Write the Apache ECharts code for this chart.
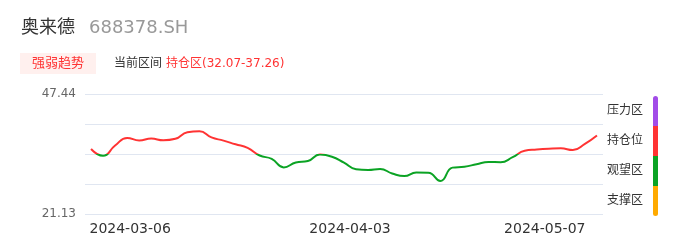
<!DOCTYPE html>
<html><head><meta charset="utf-8">
<script src="https://cdn.jsdelivr.net/npm/echarts@6/dist/echarts.min.js"></script>
<style>html,body{margin:0;padding:0;background:#fff}#c{width:686px;height:247px}</style>
</head><body><div id="c"></div>
<script>
const stockName = '奥来德';
const stockCode = '688378.SH';
const badgeText = '强弱趋势';
const rangeLabel = '当前区间';
const currentZone = '持仓区(32.07-37.26)';
const dates = ['2024-03-01','2024-03-04','2024-03-05','2024-03-06','2024-03-07','2024-03-08','2024-03-11','2024-03-12','2024-03-13','2024-03-14','2024-03-15','2024-03-18','2024-03-19','2024-03-20','2024-03-21','2024-03-22','2024-03-25','2024-03-26','2024-03-27','2024-03-28','2024-03-29','2024-04-01','2024-04-03','2024-04-08','2024-04-09','2024-04-11','2024-04-12','2024-04-15','2024-04-16','2024-04-18','2024-04-19','2024-04-22','2024-04-23','2024-04-25','2024-04-26','2024-04-29','2024-04-30','2024-05-06','2024-05-07','2024-05-08','2024-05-09','2024-05-10','2024-05-13'];
const values = [35.38,33.89,36.15,37.82,37.25,37.66,37.29,37.62,39.05,39.25,37.92,37.22,36.41,35.64,33.96,33.21,31.35,32.42,32.73,34.15,33.69,32.38,30.95,30.78,31.00,30.01,29.44,30.23,30.19,28.37,31.30,31.50,32.03,32.53,32.49,33.58,34.99,35.25,35.43,35.53,35.16,36.50,38.34];
const xLabelDates = ['2024-03-06','2024-04-03','2024-05-07'];
const yMin = 21.13, yMax = 47.44;
const zoneNames = ['压力区','持仓位','观望区','支撑区'];
const zoneColors = ['#a24ce8','#ff3333','#0ba324','#ffaa00'];

const FONT = '"DejaVu Sans","Noto Sans CJK SC",sans-serif';
const step = (yMax - yMin) / 4;
const tickVals = [0,1,2,3,4].map(k => +(yMin + k * step).toFixed(4));
tickVals[4] = yMax;
const labelPad = {'2024-03-06':[0,0,0,6],'2024-04-03':[0,12,0,0],'2024-05-07':[0,8,0,0]};

const chart = echarts.init(document.getElementById('c'), null, {renderer:'canvas'});
const rich = {};
xLabelDates.forEach((d,i)=>{ rich['p'+i] = {padding: labelPad[d], fontSize:14, color:'#333', fontFamily:FONT}; });

chart.setOption({
  animation:false,
  textStyle:{fontFamily:FONT},
  grid:{left:85, right:83, top:94, bottom:33},
  xAxis:{
    type:'category', data:dates, boundaryGap:true,
    axisLine:{show:false}, axisTick:{show:false}, splitLine:{show:false},
    axisLabel:{
      interval:(idx, v)=> xLabelDates.indexOf(v) >= 0,
      formatter:(v)=>{ const k = xLabelDates.indexOf(v); return k>=0 ? '{p'+k+'|'+v+'}' : ''; },
      rich:rich, margin:8, fontSize:14, color:'#333', hideOverlap:false
    }
  },
  yAxis:{
    type:'value', min:yMin, max:yMax, scale:true,
    axisLine:{show:false},
    axisTick:{show:false, customValues:tickVals},
    splitLine:{show:true, lineStyle:{color:'#e0e6f1', width:1}},
    axisLabel:{customValues:[yMin, yMax], formatter:(v)=>v.toFixed(2), color:'#666', fontSize:12, margin:9, fontFamily:FONT}
  },
  visualMap:{
    show:false, type:'piecewise', dimension:1, seriesIndex:0,
    pieces:[
      {gt:tickVals[3], color:zoneColors[0]},
      {gt:tickVals[2], lte:tickVals[3], color:zoneColors[1]},
      {gt:tickVals[1], lte:tickVals[2], color:zoneColors[2]},
      {lte:tickVals[1], color:zoneColors[3]}
    ]
  },
  series:[{
    type:'line', data:values, smooth:true, showSymbol:false, symbol:'none',
    lineStyle:{width:2}
  }]
});

// side zone legend aligned to the y scale
const py = tickVals.map(v => chart.convertToPixel({yAxisIndex:0}, v) + 2);
const graphics = [
  {type:'text', left:21, top:19, style:{text:stockName, font:'18px '+FONT, fill:'#333'}},
  {type:'text', left:89, top:19, style:{text:stockCode, font:'18px '+FONT, fill:'#999'}},
  {type:'rect', shape:{x:20, y:53, width:76, height:21}, style:{fill:'#fff0ee'}},
  {type:'text', x:58, y:63.5, style:{text:badgeText, font:'13px '+FONT, fill:'#ff3333', align:'center', verticalAlign:'middle'}},
  {type:'text', x:114, y:63.5, style:{text:rangeLabel, font:'12px '+FONT, fill:'#333', verticalAlign:'middle'}},
  {type:'text', x:166, y:63.5, style:{text:currentZone, font:'12px '+FONT, fill:'#ff3333', verticalAlign:'middle'}}
];
zoneNames.forEach((name, k) => {
  const top = py[4-k], bot = py[3-k];
  const r = k===0 ? [2.5,2.5,0,0] : (k===3 ? [0,0,2.5,2.5] : 0);
  graphics.push({type:'rect', shape:{x:653, y:top, width:5, height:bot-top, r:r}, style:{fill:zoneColors[k]}});
  graphics.push({type:'text', x:607, y:(top+bot)/2, style:{text:name, font:'12px '+FONT, fill:'#333', verticalAlign:'middle'}});
});
chart.setOption({graphic:{elements:graphics}});
</script>
</body></html>
